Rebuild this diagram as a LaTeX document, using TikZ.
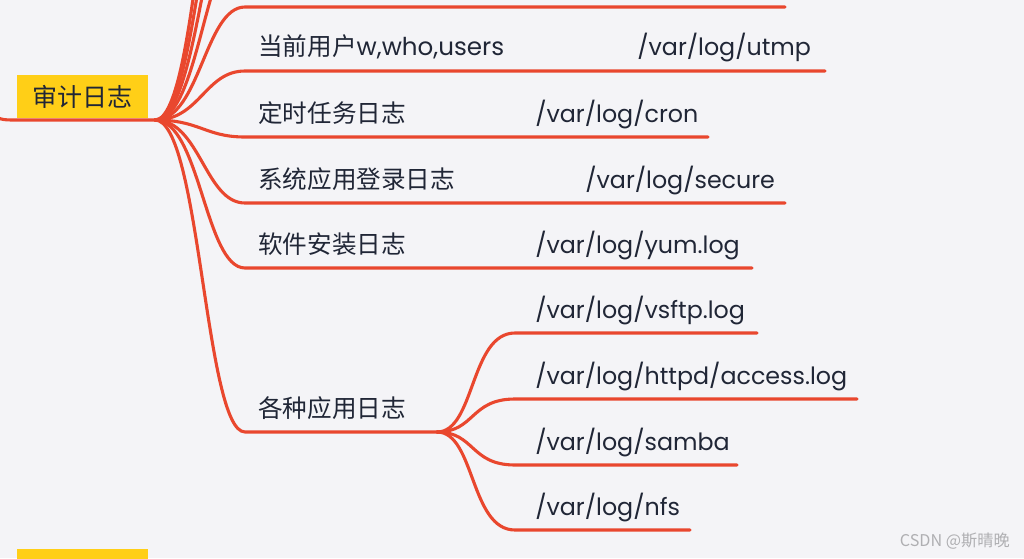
\documentclass[tikz,border=0pt]{standalone}
\usepackage{fontspec}
\setmainfont{Poppins}
\newfontfamily\cjk{Noto Sans CJK SC}
\usetikzlibrary{positioning}
\definecolor{paper}{RGB}{244,244,247}
\definecolor{mapred}{RGB}{233,71,46}
\definecolor{tagyellow}{RGB}{255,207,23}
\definecolor{ink}{RGB}{32,38,54}
\definecolor{markgray}{RGB}{175,175,178}

\begin{document}
\begin{tikzpicture}[x=0.025cm, y=-0.025cm,
    every node/.style={inner sep=0pt, text=ink, font=\fontsize{17.5}{21}\selectfont},
    pathtext/.style={anchor=base west, font=\fontsize{16.9}{20}\selectfont},
    branch/.style={draw=mapred, line width=2.2pt, line cap=round},
    tagbox/.style={fill=tagyellow, minimum width=3.275cm, minimum height=1.075cm,
      font=\cjk\fontsize{17.8}{21}\selectfont}]
  % canvas, 1 unit = 1 px of the reference
  \fill[paper] (0,0) rectangle (1024,558);
  \useasboundingbox (0,0) rectangle (1024,558);
  \clip (0,0) rectangle (1024,558);
  % root tag and its hub
  \node[tagbox] (audit) at (82.5,96.5) {审计日志};
  \coordinate (hub) at (155,120);
  \coordinate (rootin) at (15,120);
  \draw[branch] (-40,55) .. controls (-8,120) .. (rootin) -- (hub);
  % next tag, cut by the lower edge
  \node[tagbox, anchor=north] (nexttag) at (82.5,549) {};
  \draw[branch] (-40,490) .. controls (-5,560) .. (10,590);
  % branches leaving the top edge
  \foreach \y in {-58,-124,-190,-256}
    \draw[branch] (hub) .. controls (200,120) and (205,\y) .. (245,\y);
  % labelled branches: line height / line end
  \foreach \y/\xe [count=\i] in {7/785, 71/825, 137/708, 203/785, 268/752, 432/437} {
    \coordinate (end\i) at (\xe,\y);
    \draw[branch] (hub) .. controls (200,120) and (205,\y) .. (245,\y) -- (end\i);
  }
  % labels sit 15 px above their line
  \node[anchor=base west] (utmpkey) at (258,56) {{\cjk 当前用户}w,who,users};
  \node[pathtext] (utmp) at (637,56) {/var/log/utmp};
  \node[anchor=base west] (cronkey) at (258,122) {\cjk 定时任务日志};
  \node[pathtext] (cron) at (535,122) {/var/log/cron};
  \node[anchor=base west] (securekey) at (258,188) {\cjk 系统应用登录日志};
  \node[pathtext] (secure) at (585,188) {/var/log/secure};
  \node[anchor=base west] (yumkey) at (258,253) {\cjk 软件安装日志};
  \node[pathtext] (yum) at (535,253) {/var/log/yum.log};
  \node[anchor=base west] (appkey) at (258,417) {\cjk 各种应用日志};
  % application logs hang on a second hub
  \coordinate (hubapp) at (end6);
  \foreach \y/\xe [count=\i] in {333/757, 399/857, 465/737, 530/690} {
    \coordinate (app\i) at (\xe,\y);
    \draw[branch] (hubapp) .. controls (475,432) and (470,\y) .. (515,\y) -- (app\i);
  }
  \node[pathtext] (vsftp) at (535,318) {/var/log/vsftp.log};
  \node[pathtext] (httpd) at (535,384) {/var/log/httpd/access.log};
  \node[pathtext] (samba) at (535,450) {/var/log/samba};
  \node[pathtext] (nfs) at (535,515) {/var/log/nfs};
  % watermark
  \node[anchor=east, text=markgray, font=\cjk\fontsize{11.5}{14}\selectfont]
    (mark) at (1010,541) {CSDN @斯晴晚};
\end{tikzpicture}
\end{document}
